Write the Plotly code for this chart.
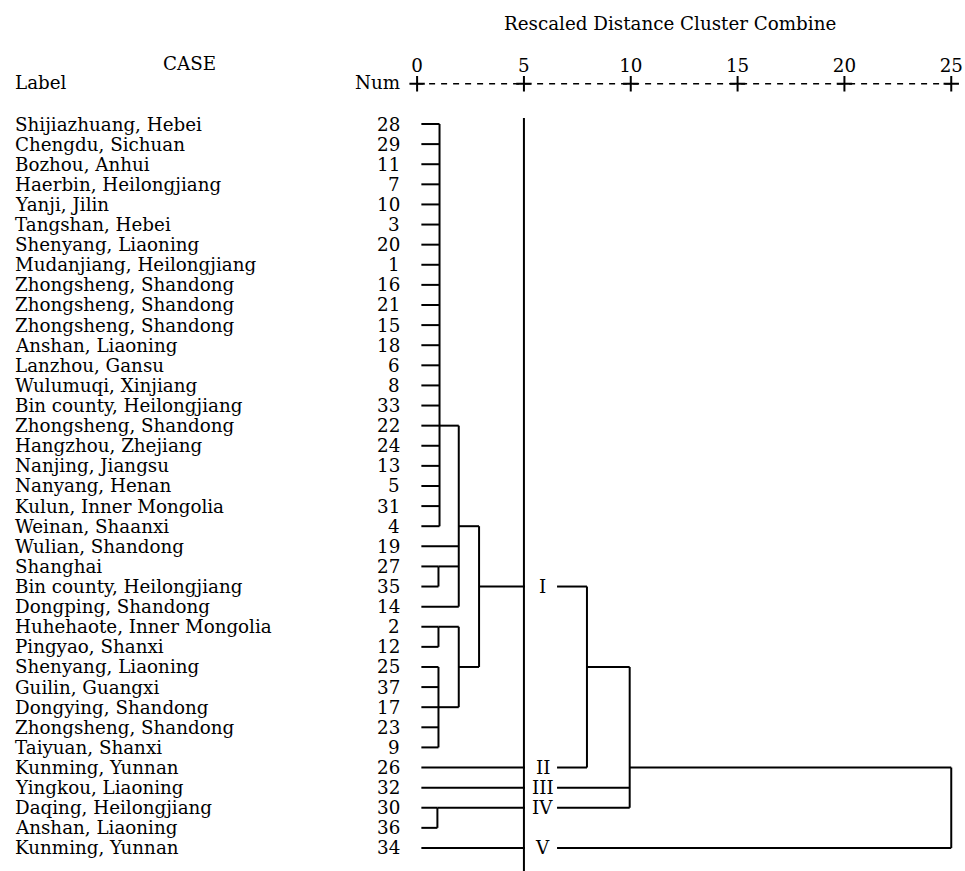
import plotly.graph_objects as go

# ---------------- data ----------------
case_labels = [
    "Shijiazhuang, Hebei", "Chengdu, Sichuan", "Bozhou, Anhui", "Haerbin, Heilongjiang",
    "Yanji, Jilin", "Tangshan, Hebei", "Shenyang, Liaoning", "Mudanjiang, Heilongjiang",
    "Zhongsheng, Shandong", "Zhongsheng, Shandong", "Zhongsheng, Shandong", "Anshan, Liaoning",
    "Lanzhou, Gansu", "Wulumuqi, Xinjiang", "Bin county, Heilongjiang", "Zhongsheng, Shandong",
    "Hangzhou, Zhejiang", "Nanjing, Jiangsu", "Nanyang, Henan", "Kulun, Inner Mongolia",
    "Weinan, Shaanxi", "Wulian, Shandong", "Shanghai", "Bin county, Heilongjiang",
    "Dongping, Shandong", "Huhehaote, Inner Mongolia", "Pingyao, Shanxi", "Shenyang, Liaoning",
    "Guilin, Guangxi", "Dongying, Shandong", "Zhongsheng, Shandong", "Taiyuan, Shanxi",
    "Kunming, Yunnan", "Yingkou, Liaoning", "Daqing, Heilongjiang", "Anshan, Liaoning",
    "Kunming, Yunnan",
]
case_nums = [28, 29, 11, 7, 10, 3, 20, 1, 16, 21, 15, 18, 6, 8, 33, 22, 24, 13, 5, 31, 4,
             19, 27, 35, 14, 2, 12, 25, 37, 17, 23, 9, 26, 32, 30, 36, 34]

# merges: children are leaf rows (int) or earlier merges ("m<k>")
merge_children = [
    list(range(0, 21)),          # m0
    [22, 23],                    # m1
    ["m0", 21, "m1", 24],        # m2
    [25, 26],                    # m3
    [27, 28, 29, 30, 31],        # m4
    ["m3", "m4"],                # m5
    ["m2", "m5"],                # m6  -> cluster I
    [34, 35],                    # m7  -> cluster IV
    ["m6", 32],                  # m8
    ["m8", 33, "m7"],            # m9
    ["m9", 36],                  # m10
]
merge_heights = [1.05, 1.0, 1.95, 1.0, 1.0, 1.95, 2.9, 0.95, 7.95, 9.95, 25.0]
merge_rows = [15, 22, 20, 25, 29, 27, 23, 34, 27, 32, 34]

cluster_names = ["I", "II", "III", "IV", "V"]
cutoff = 5
axis_ticks = [0, 5, 10, 15, 20, 25]

# ---------------- geometry ----------------
W, H = 965, 871
X0, XS = 417.1, 21.366      # px of x=0, px per unit
Y0, YS = 124.0, 20.11       # px of row 0, px per row
xr = [(0 - X0) / XS, (W - X0) / XS]
yr = [(H - Y0) / YS, (0 - Y0) / YS]

LEAF_START = 0.2
CUT_END = 5.05
RESUME = 6.55
NUM_X = 5.89

xs, ys = [], []
label_rows = []


def seg(x1, x2, y1, y2):
    xs.extend([x1, x2, None])
    ys.extend([y1, y2, None])


for k, children in enumerate(merge_children):
    h = merge_heights[k]
    crow = []
    for c in children:
        if isinstance(c, str):
            j = int(c[1:])
            start, r = merge_heights[j], merge_rows[j]
        else:
            start, r = LEAF_START, c
        crow.append(r)
        if start < cutoff < h:
            seg(start, CUT_END, r, r)
            seg(RESUME, h, r, r)
            label_rows.append(r)
        else:
            seg(start, h, r, r)
    seg(h, h, min(crow), max(crow))

fig = go.Figure()

# dendrogram
fig.add_trace(go.Scatter(x=xs, y=ys, mode="lines",
                         line=dict(color="black", width=2), hoverinfo="skip"))
# cutoff line
fig.add_trace(go.Scatter(x=[cutoff, cutoff], y=[-0.3, yr[0] + 1], mode="lines",
                         line=dict(color="black", width=2), hoverinfo="skip"))
# header dashed scale
fig.add_trace(go.Scatter(x=[axis_ticks[0], axis_ticks[-1]], y=[-2, -2], mode="lines",
                         line=dict(color="black", width=1.6, dash="6px,6px"), hoverinfo="skip"))
fig.add_trace(go.Scatter(x=axis_ticks, y=[-2] * len(axis_ticks), mode="markers",
                         marker=dict(symbol="cross-thin", size=11, color="black",
                                     line=dict(color="black", width=2)), hoverinfo="skip"))

font = dict(family="DejaVu Serif", size=18.3, color="black")
ann = []
for i, (lab, n) in enumerate(zip(case_labels, case_nums)):
    ann.append(dict(x=-18.91, y=i, text=lab, xanchor="left", yanchor="middle",
                    showarrow=False, font=font))
    ann.append(dict(x=-0.707, y=i, text=str(n), xanchor="right", yanchor="middle",
                    showarrow=False, font=font))
for name, r in zip(cluster_names, label_rows):
    ann.append(dict(x=NUM_X, y=r, text=name, xanchor="center", yanchor="middle",
                    showarrow=False, font=font))
ann.append(dict(x=-18.91, y=-2.05, text="Label", xanchor="left", yanchor="middle",
                showarrow=False, font=font))
ann.append(dict(x=-10.63, y=-3.03, text="CASE", xanchor="center", yanchor="middle",
                showarrow=False, font=font))
ann.append(dict(x=-0.707, y=-2.05, text="Num", xanchor="right", yanchor="middle",
                showarrow=False, font=font))
ann.append(dict(x=11.84, y=-5.02, text="Rescaled Distance Cluster Combine",
                xanchor="center", yanchor="middle", showarrow=False, font=font))

fig.update_layout(
    width=W, height=H,
    margin=dict(l=0, r=0, t=0, b=0, pad=0),
    paper_bgcolor="white", plot_bgcolor="white",
    showlegend=False,
    annotations=ann,
    xaxis=dict(range=xr, showgrid=False, zeroline=False, showline=False,
               tickvals=axis_ticks, ticktext=[str(t) for t in axis_ticks],
               ticks="", side="top", anchor="free", position=1 - 76 / H,
               tickfont=font, automargin=False),
    yaxis=dict(range=yr, showgrid=False, zeroline=False, showline=False,
               showticklabels=False, automargin=False),
)

fig.write_html("out.html")
